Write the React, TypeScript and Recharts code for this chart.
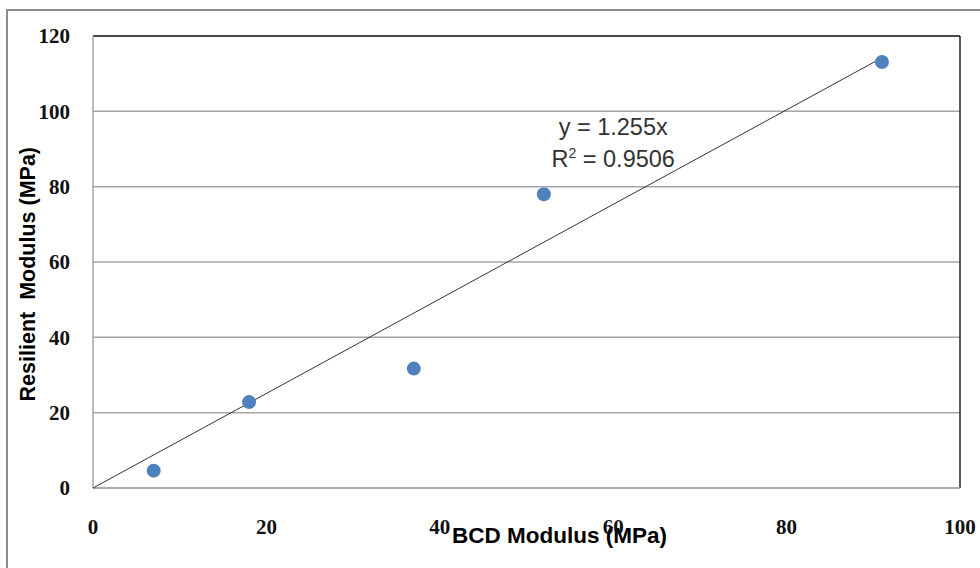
import { CartesianGrid, Label, ReferenceDot, ReferenceLine, Scatter, ScatterChart, XAxis, YAxis } from 'recharts'

const bcdModulus = [7, 18, 37, 52, 91]
const resilientModulus = [4.6, 22.8, 31.7, 78, 113.1]
const xTicks = [0, 20, 40, 60, 80, 100]
const yTicks = [0, 20, 40, 60, 80, 100, 120]
const trendSlope = 1.255
const trendX = [0, 91]
const equationText = 'y = 1.255x'
const r2Text = '0.9506'

const points = bcdModulus.map((x, i) => ({ x, y: resilientModulus[i] }))
const trendData = trendX.map((x) => ({ x, y: trendSlope * x }))

const serifTick = { fontFamily: '"Liberation Serif", serif', fontSize: 21, fontWeight: 'bold', fill: '#111' }

export default function App() {
  return (
    <div style={{ position: 'fixed', left: 0, top: 0, width: 980, height: 568, overflow: 'hidden', background: '#fff' }}>
      {/* outer chart frame, only its top and left edges are in view */}
      <div style={{ position: 'absolute', left: 6, top: 9, width: 974, height: 2, background: '#8c8c8c' }} />
      <div style={{ position: 'absolute', left: 6, top: 9, width: 2, height: 559, background: '#8c8c8c' }} />
      <ScatterChart
        width={980}
        height={568}
        margin={{ top: 36, right: 20, bottom: 0, left: 0 }}
        style={{ position: 'absolute', left: 0, top: 0 }}
      >
        <CartesianGrid vertical={false} stroke="#a6a6a6" strokeWidth={1.5} />
        <XAxis
          type="number"
          dataKey="x"
          domain={[0, 100]}
          ticks={xTicks}
          height={80}
          tickLine={false}
          tickSize={0}
          tickMargin={31}
          axisLine={{ stroke: '#a6a6a6', strokeWidth: 1.5 }}
          tick={serifTick}
        >
          <Label
            content={(p: any) => {
              const vb = p.viewBox
              return (
                <text
                  x={vb.x + vb.width * 0.538}
                  y={vb.y + 55}
                  textAnchor="middle"
                  fontFamily='"Liberation Sans", sans-serif'
                  fontWeight="bold"
                  fontSize={22.5}
                  fill="#000"
                >
                  BCD Modulus (MPa)
                </text>
              )
            }}
          />
        </XAxis>
        <YAxis
          type="number"
          dataKey="y"
          domain={[0, 120]}
          ticks={yTicks}
          width={93}
          tickLine={false}
          tickSize={0}
          tickMargin={23}
          axisLine={{ stroke: '#a6a6a6', strokeWidth: 1.5 }}
          tick={serifTick}
        >
          <Label
            content={(p: any) => {
              const vb = p.viewBox
              const cx = 35
              const cy = vb.y + vb.height * 0.527
              return (
                <text
                  x={cx}
                  y={cy}
                  transform={`rotate(-90 ${cx} ${cy})`}
                  textAnchor="middle"
                  fontFamily='"Liberation Sans", sans-serif'
                  fontWeight="bold"
                  fontSize={21.5}
                  fill="#000"
                  style={{ whiteSpace: 'pre' }}
                >
                  {'Resilient  Modulus (MPa)'}
                </text>
              )
            }}
          />
        </YAxis>
        <ReferenceLine y={120} stroke="#222" strokeWidth={1.5} />
        <ReferenceLine x={100} stroke="#222" strokeWidth={1.5} />
        <Scatter
          data={trendData}
          isAnimationActive={false}
          line={{ stroke: '#333', strokeWidth: 1 }}
          shape={() => <g />}
        />
        <Scatter
          data={points}
          isAnimationActive={false}
          shape={(p: any) => <circle cx={p.cx} cy={p.cy} r={7} fill="#4f81bd" />}
        />
        <ReferenceDot
          x={60}
          y={96}
          r={0}
          fill="none"
          stroke="none"
          label={(p: any) => {
            const vb = p.viewBox
            const cx = vb.x + (vb.width || 0) / 2
            const cy = vb.y + (vb.height || 0) / 2
            return (
              <g fontFamily='"Liberation Sans", sans-serif' fontSize={23.5} fill="#333">
                <text x={cx} y={cy + 9} textAnchor="middle">
                  {equationText}
                </text>
                <text x={cx} y={cy + 41} textAnchor="middle">
                  R<tspan dy={-9} fontSize={14}>2</tspan>
                  <tspan dy={9}>{' = ' + r2Text}</tspan>
                </text>
              </g>
            )
          }}
        />
      </ScatterChart>
    </div>
  )
}
